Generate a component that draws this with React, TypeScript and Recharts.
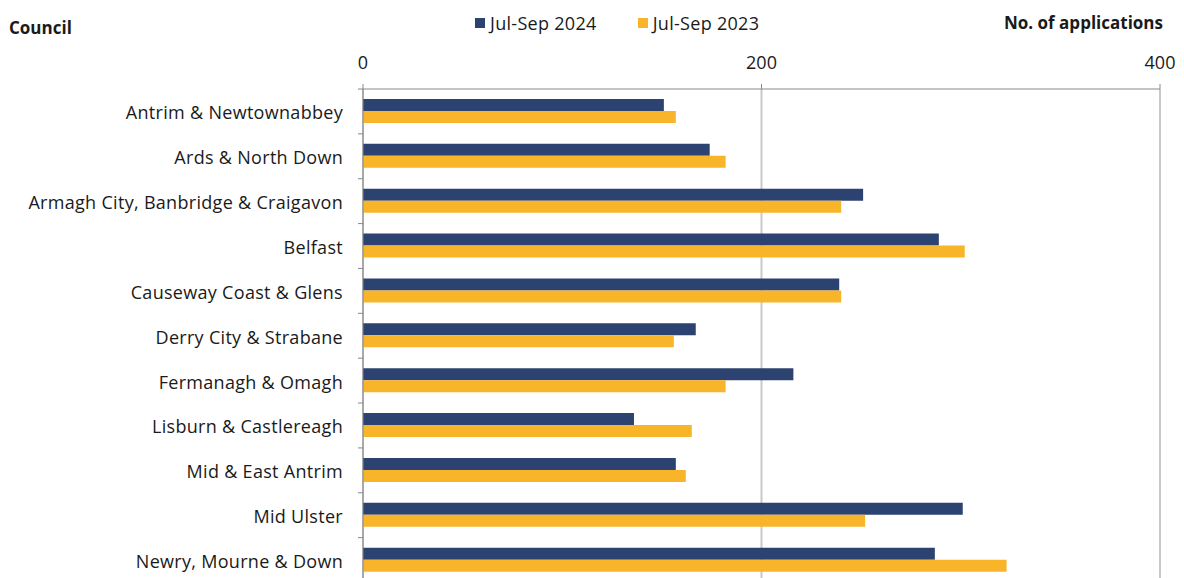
import React from 'react';
import { BarChart, Bar, XAxis, YAxis, CartesianGrid } from 'recharts';

const councils = [
  'Antrim & Newtownabbey',
  'Ards & North Down',
  'Armagh City, Banbridge & Craigavon',
  'Belfast',
  'Causeway Coast & Glens',
  'Derry City & Strabane',
  'Fermanagh & Omagh',
  'Lisburn & Castlereagh',
  'Mid & East Antrim',
  'Mid Ulster',
  'Newry, Mourne & Down',
];

const q2024 = [151, 174, 251, 289, 239, 167, 216, 136, 157, 301, 287];
const q2023 = [157, 182, 240, 302, 240, 156, 182, 165, 162, 252, 323];

const xTicks = [0, 200, 400];

const seriesNames = ['Jul-Sep 2024', 'Jul-Sep 2023'];
const NAVY = '#2C4271';
const AMBER = '#F8B52A';
const AXIS = '#888888';
const TEXT = '#1a1a1a';
const FONT = '"Open Sans", sans-serif';

const CHART_W = 1184;
const CHART_H = 590;
const PLOT_TOP = 89;
const PLOT_BOTTOM = 582.5;
const X_AXIS_H = 30;
const Y_AXIS_W = 363;
const MARGIN = { top: PLOT_TOP - X_AXIS_H, right: 24, bottom: CHART_H - PLOT_BOTTOM, left: 0 };
const BAND = (PLOT_BOTTOM - PLOT_TOP) / councils.length;

const data = councils.map((name, i) => ({
  name,
  y2024: q2024[i],
  y2023: q2023[i],
}));

const CategoryTick = ({ x, y, payload }: any) => (
  <g>
    <line x1={x - 5} x2={x} y1={y - BAND / 2} y2={y - BAND / 2} stroke={AXIS} />
    <text
      x={x - 20}
      y={y + 8}
      textAnchor="end"
      fontFamily={FONT}
      fontSize={18}
      letterSpacing={0.3}
      fill={TEXT}
    >
      {payload.value}
    </text>
  </g>
);

const ValueTick = ({ x, payload }: any) => (
  <text x={x} y={69} textAnchor="middle" fontFamily={FONT} fontSize={18} fill={TEXT}>
    {payload.value}
  </text>
);

const LegendBox = () => (
  <div
    style={{
      position: 'absolute',
      left: 475,
      top: 11,
      display: 'flex',
      fontFamily: FONT,
      fontSize: 18,
      color: TEXT,
    }}
  >
    {seriesNames.map((s, i) => (
      <div key={s} style={{ display: 'flex', alignItems: 'center', marginRight: 41 }}>
        <span
          style={{
            display: 'inline-block',
            width: 10,
            height: 10,
            background: i === 0 ? NAVY : AMBER,
            marginRight: 5,
          }}
        />
        <span style={{ letterSpacing: 0.3 }}>{s}</span>
      </div>
    ))}
  </div>
);

export default function App() {
  return (
    <div style={{ position: 'absolute', left: 0, top: 0, width: CHART_W, height: CHART_H, background: '#fff' }}>
      <div
        style={{
          position: 'absolute',
          left: 9,
          top: 16,
          fontFamily: FONT,
          fontWeight: 700,
          fontSize: 17,
          color: TEXT,
        }}
      >
        Council
      </div>
      <div
        style={{
          position: 'absolute',
          right: CHART_W - 1163,
          top: 11,
          fontFamily: FONT,
          fontWeight: 700,
          fontSize: 17,
          color: TEXT,
        }}
      >
        No. of applications
      </div>
      <LegendBox />
      <BarChart
        width={CHART_W}
        height={CHART_H}
        data={data}
        layout="vertical"
        margin={MARGIN}
        barSize={12}
        barGap={0}
      >
        <CartesianGrid horizontal={false} stroke="#c9c9c9" strokeWidth={2} />
        <XAxis
          type="number"
          orientation="top"
          domain={[0, 400]}
          ticks={xTicks}
          stroke={AXIS}
          tickSize={5}
          tick={<ValueTick />}
          interval={0}
          height={X_AXIS_H}
        />
        <YAxis
          type="category"
          dataKey="name"
          stroke={AXIS}
          tickLine={false}
          tickSize={0}
          tickMargin={0}
          tick={<CategoryTick />}
          interval={0}
          width={Y_AXIS_W}
        />
        <Bar dataKey="y2024" name={seriesNames[0]} fill={NAVY} isAnimationActive={false} />
        <Bar dataKey="y2023" name={seriesNames[1]} fill={AMBER} isAnimationActive={false} />
      </BarChart>
    </div>
  );
}
